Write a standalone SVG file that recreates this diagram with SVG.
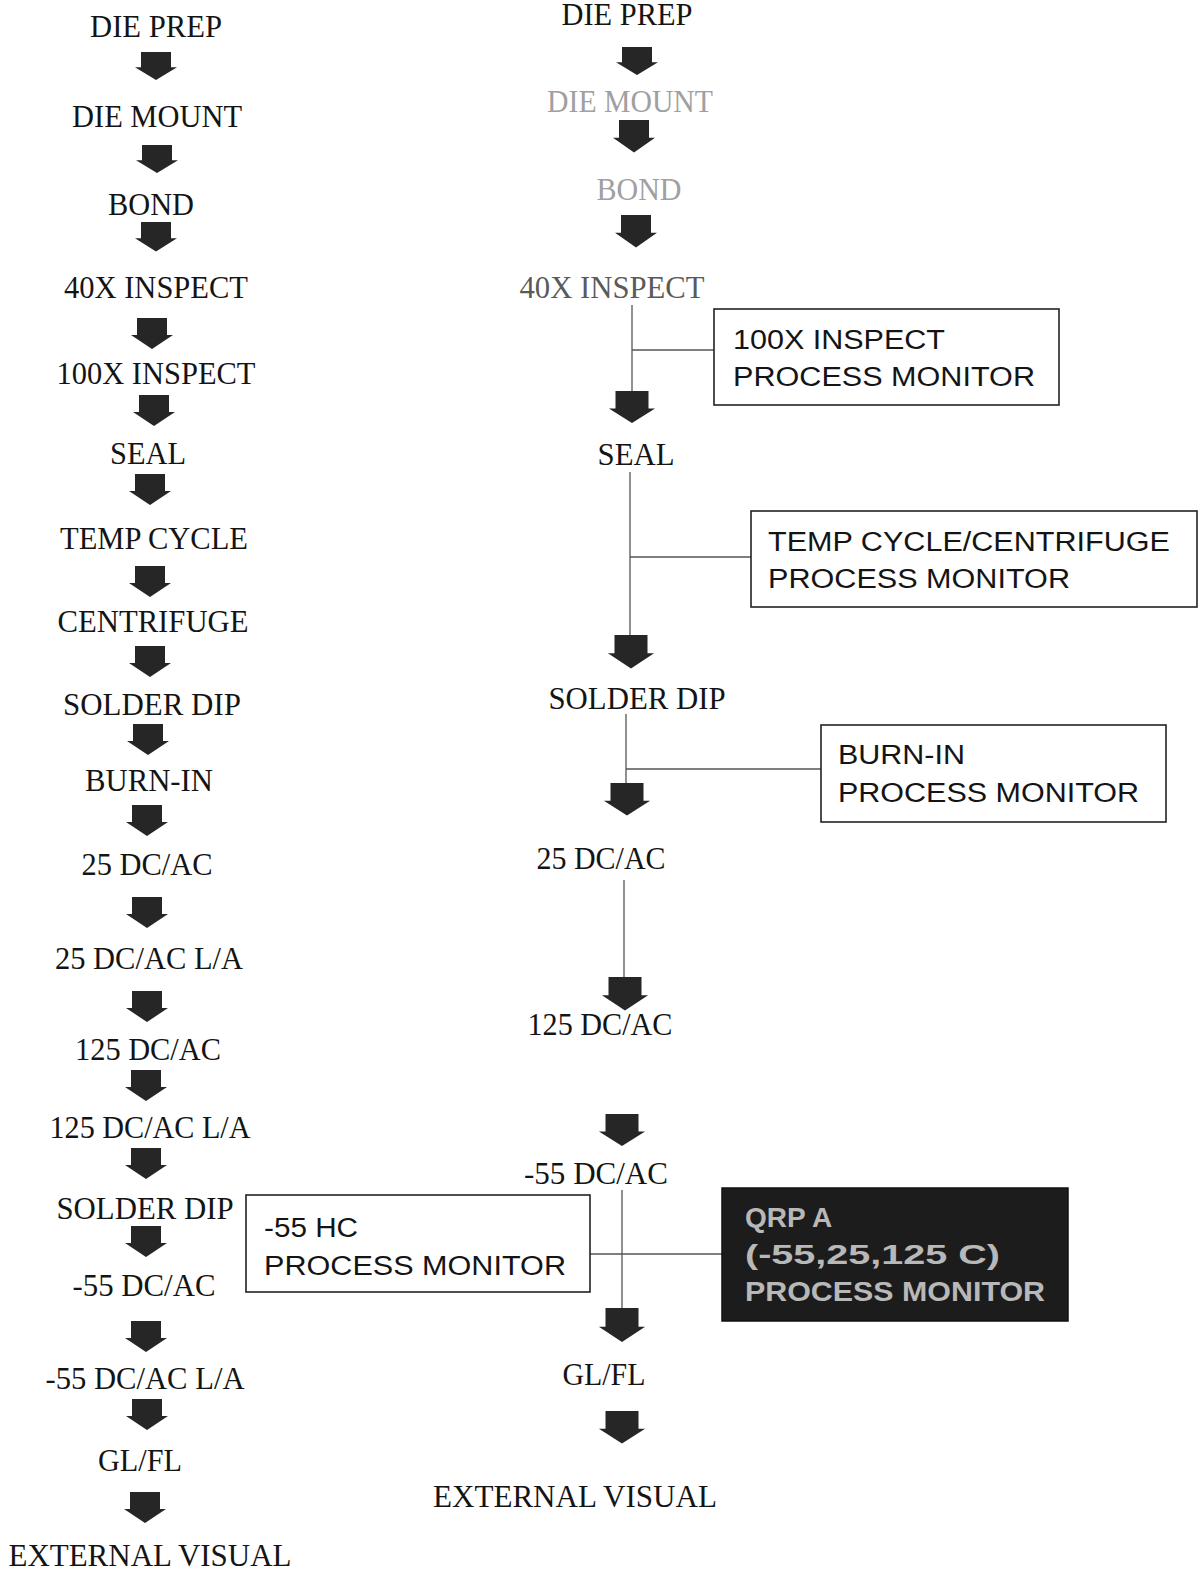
<svg xmlns="http://www.w3.org/2000/svg" width="1202" height="1572" viewBox="0 0 1202 1572">
<style>
.lbl{font-family:"Liberation Serif","Times New Roman",serif;font-size:31px;fill:#141414;text-anchor:middle}
.faint{fill:#a0a0a0}
.mid{fill:#5a5a5a}
.box{fill:#fff;stroke:#222;stroke-width:1.6}
.btx{font-family:"Liberation Sans",Arial,sans-serif;font-size:27px;fill:#141414}
.dark{fill:#1c1c1c;stroke:#111;stroke-width:1.5}
.dtx{font-family:"Liberation Sans",Arial,sans-serif;font-size:28px;font-weight:bold;fill:#b8b8b8}
.ln{stroke:#555;stroke-width:1.3;fill:none}
.arr{fill:#262626}
</style>
<defs>
<path id="ar" d="M-15,0 H15 V17 H21 L0,31 L-21,17 H-15 Z"/>
</defs>

<g id="connectors">
<line class="ln" x1="632" y1="305" x2="632" y2="392"/>
<line class="ln" x1="632" y1="350" x2="714" y2="350"/>
<line class="ln" x1="630" y1="472" x2="630" y2="636"/>
<line class="ln" x1="630" y1="557" x2="751" y2="557"/>
<line class="ln" x1="626" y1="714" x2="626" y2="784"/>
<line class="ln" x1="626" y1="769" x2="821" y2="769"/>
<line class="ln" x1="624" y1="880" x2="624" y2="978"/>
<line class="ln" x1="622" y1="1190" x2="622" y2="1308"/>
<line class="ln" x1="590" y1="1254" x2="722" y2="1254"/>
<use href="#ar" class="arr" transform="translate(156,52) scale(1,0.9)"/>
<use href="#ar" class="arr" transform="translate(157,145) scale(1,0.9)"/>
<use href="#ar" class="arr" transform="translate(156,222) scale(1,0.95)"/>
<use href="#ar" class="arr" transform="translate(152,318)"/>
<use href="#ar" class="arr" transform="translate(154,395)"/>
<use href="#ar" class="arr" transform="translate(150,474)"/>
<use href="#ar" class="arr" transform="translate(150,566)"/>
<use href="#ar" class="arr" transform="translate(150,646)"/>
<use href="#ar" class="arr" transform="translate(148,724)"/>
<use href="#ar" class="arr" transform="translate(147,805)"/>
<use href="#ar" class="arr" transform="translate(147,897)"/>
<use href="#ar" class="arr" transform="translate(147,991)"/>
<use href="#ar" class="arr" transform="translate(146,1070)"/>
<use href="#ar" class="arr" transform="translate(146,1148)"/>
<use href="#ar" class="arr" transform="translate(146,1226)"/>
<use href="#ar" class="arr" transform="translate(146,1321)"/>
<use href="#ar" class="arr" transform="translate(147,1399)"/>
<use href="#ar" class="arr" transform="translate(145,1492)"/>
<use href="#ar" class="arr" transform="translate(637,47) scale(1,0.9)"/>
<use href="#ar" class="arr" transform="translate(634,120) scale(1,1.05)"/>
<use href="#ar" class="arr" transform="translate(636,215) scale(1,1.05)"/>
<use href="#ar" class="arr" transform="translate(632,391) scale(1.1,1.03)"/>
<use href="#ar" class="arr" transform="translate(631,635) scale(1.1,1.08)"/>
<use href="#ar" class="arr" transform="translate(627,783) scale(1.1,1.05)"/>
<use href="#ar" class="arr" transform="translate(625,977) scale(1.1,1.08)"/>
<use href="#ar" class="arr" transform="translate(622,1114) scale(1.1,1.03)"/>
<use href="#ar" class="arr" transform="translate(622,1308) scale(1.1,1.1)"/>
<use href="#ar" class="arr" transform="translate(622,1411) scale(1.1,1.05)"/>
</g>

<g id="left-column">
<g id="l-dieprep"><text class="lbl" x="156" y="37" textLength="132" lengthAdjust="spacingAndGlyphs">DIE PREP</text></g>
<g id="l-diemount"><text class="lbl" x="157" y="127" textLength="170" lengthAdjust="spacingAndGlyphs">DIE MOUNT</text></g>
<g id="l-bond"><text class="lbl" x="151" y="215" textLength="86" lengthAdjust="spacingAndGlyphs">BOND</text></g>
<g id="l-40x"><text class="lbl" x="156" y="298" textLength="184" lengthAdjust="spacingAndGlyphs">40X INSPECT</text></g>
<g id="l-100x"><text class="lbl" x="156" y="384" textLength="199" lengthAdjust="spacingAndGlyphs">100X INSPECT</text></g>
<g id="l-seal"><text class="lbl" x="148" y="464" textLength="76" lengthAdjust="spacingAndGlyphs">SEAL</text></g>
<g id="l-temp"><text class="lbl" x="154" y="549" textLength="188" lengthAdjust="spacingAndGlyphs">TEMP CYCLE</text></g>
<g id="l-centrifuge"><text class="lbl" x="153" y="632" textLength="191" lengthAdjust="spacingAndGlyphs">CENTRIFUGE</text></g>
<g id="l-solder1"><text class="lbl" x="152" y="715" textLength="178" lengthAdjust="spacingAndGlyphs">SOLDER DIP</text></g>
<g id="l-burnin"><text class="lbl" x="149" y="791" textLength="128" lengthAdjust="spacingAndGlyphs">BURN-IN</text></g>
<g id="l-25"><text class="lbl" x="147" y="875" textLength="131" lengthAdjust="spacingAndGlyphs">25 DC/AC</text></g>
<g id="l-25la"><text class="lbl" x="149" y="969" textLength="188" lengthAdjust="spacingAndGlyphs">25 DC/AC L/A</text></g>
<g id="l-125"><text class="lbl" x="148" y="1060" textLength="146" lengthAdjust="spacingAndGlyphs">125 DC/AC</text></g>
<g id="l-125la"><text class="lbl" x="150" y="1138" textLength="201" lengthAdjust="spacingAndGlyphs">125 DC/AC L/A</text></g>
<g id="l-solder2"><text class="lbl" x="145" y="1219" textLength="177" lengthAdjust="spacingAndGlyphs">SOLDER DIP</text></g>
<g id="l-m55"><text class="lbl" x="144" y="1296" textLength="143" lengthAdjust="spacingAndGlyphs">-55 DC/AC</text></g>
<g id="l-m55la"><text class="lbl" x="145" y="1389" textLength="199" lengthAdjust="spacingAndGlyphs">-55 DC/AC L/A</text></g>
<g id="l-glfl"><text class="lbl" x="140" y="1471" textLength="84" lengthAdjust="spacingAndGlyphs">GL/FL</text></g>
<g id="l-ext"><text class="lbl" x="150" y="1566" textLength="283" lengthAdjust="spacingAndGlyphs">EXTERNAL VISUAL</text></g>
</g>

<g id="right-column">
<g id="r-dieprep"><text class="lbl" x="627" y="25" textLength="131" lengthAdjust="spacingAndGlyphs">DIE PREP</text></g>
<g id="r-diemount"><text class="lbl faint" x="630" y="112" textLength="166" lengthAdjust="spacingAndGlyphs">DIE MOUNT</text></g>
<g id="r-bond"><text class="lbl faint" x="639" y="200" textLength="85" lengthAdjust="spacingAndGlyphs">BOND</text></g>
<g id="r-40x"><text class="lbl mid" x="612" y="298" textLength="185" lengthAdjust="spacingAndGlyphs">40X INSPECT</text></g>
<g id="r-seal"><text class="lbl" x="636" y="465" textLength="77" lengthAdjust="spacingAndGlyphs">SEAL</text></g>
<g id="r-solder"><text class="lbl" x="637" y="709" textLength="177" lengthAdjust="spacingAndGlyphs">SOLDER DIP</text></g>
<g id="r-25"><text class="lbl" x="601" y="869" textLength="129" lengthAdjust="spacingAndGlyphs">25 DC/AC</text></g>
<g id="r-125"><text class="lbl" x="600" y="1035" textLength="145" lengthAdjust="spacingAndGlyphs">125 DC/AC</text></g>
<g id="r-m55"><text class="lbl" x="596" y="1184" textLength="144" lengthAdjust="spacingAndGlyphs">-55 DC/AC</text></g>
<g id="r-glfl"><text class="lbl" x="604" y="1385" textLength="83" lengthAdjust="spacingAndGlyphs">GL/FL</text></g>
<g id="r-ext"><text class="lbl" x="575" y="1507" textLength="284" lengthAdjust="spacingAndGlyphs">EXTERNAL VISUAL</text></g>
</g>

<g id="pm-100x">
<rect class="box" x="714" y="309" width="345" height="96"/>
<text class="btx" x="733" y="349" textLength="212" lengthAdjust="spacingAndGlyphs">100X INSPECT</text>
<text class="btx" x="733" y="386" textLength="302" lengthAdjust="spacingAndGlyphs">PROCESS MONITOR</text>
</g>
<g id="pm-temp">
<rect class="box" x="751" y="511" width="446" height="96"/>
<text class="btx" x="768" y="551" textLength="402" lengthAdjust="spacingAndGlyphs">TEMP CYCLE/CENTRIFUGE</text>
<text class="btx" x="768" y="588" textLength="302" lengthAdjust="spacingAndGlyphs">PROCESS MONITOR</text>
</g>
<g id="pm-burnin">
<rect class="box" x="821" y="725" width="345" height="97"/>
<text class="btx" x="838" y="764" textLength="127" lengthAdjust="spacingAndGlyphs">BURN-IN</text>
<text class="btx" x="838" y="802" textLength="301" lengthAdjust="spacingAndGlyphs">PROCESS MONITOR</text>
</g>
<g id="pm-55hc">
<rect class="box" x="246" y="1195" width="344" height="97"/>
<text class="btx" x="264" y="1237" textLength="94" lengthAdjust="spacingAndGlyphs">-55 HC</text>
<text class="btx" x="264" y="1275" textLength="302" lengthAdjust="spacingAndGlyphs">PROCESS MONITOR</text>
</g>
<g id="pm-qrp">
<rect class="dark" x="722" y="1188" width="346" height="133"/>
<text class="dtx" x="745" y="1227">QRP A</text>
<text class="dtx" x="745" y="1264" textLength="255" lengthAdjust="spacingAndGlyphs">(-55,25,125 C)</text>
<text class="dtx" x="745" y="1301" textLength="300" lengthAdjust="spacingAndGlyphs">PROCESS MONITOR</text>
</g>
</svg>
